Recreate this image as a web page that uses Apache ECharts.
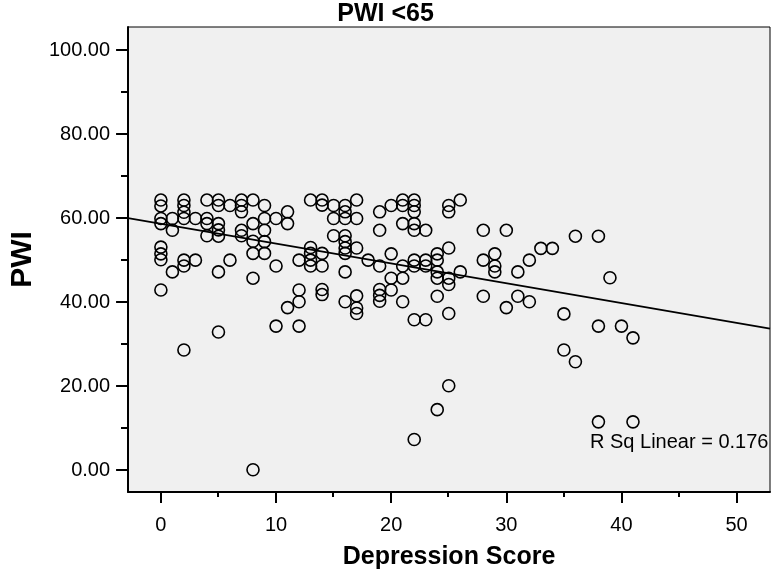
<!DOCTYPE html>
<html>
<head>
<meta charset="utf-8">
<style>
  html, body { margin: 0; padding: 0; background: #ffffff; }
  #chart { width: 771px; height: 577px; }
</style>
<script src="https://cdn.jsdelivr.net/npm/echarts@6/dist/echarts.min.js"></script>
</head>
<body>
<div id="chart"></div>
<script>
// ---- Data ----
const chartTitle = 'PWI <65';
const xAxisTitle = 'Depression Score';
const yAxisTitle = 'PWI';
const rSqLabel = 'R Sq Linear = 0.176';

// Depression score (x) and the PWI values observed at that score
const scoreColumns = [0, 1, 2, 3, 4, 5, 6, 7, 8, 9, 10, 11, 12, 13, 14, 15, 16, 17, 18, 19, 20,
  21, 22, 23, 24, 25, 26, 28, 29, 30, 31, 32, 33, 34, 35, 36, 38, 39, 40, 41];
const pwiColumns = [
  [64.3, 62.9, 59.9, 58.7, 53.1, 51.5, 50.1, 42.9],        // 0
  [59.9, 57.1, 47.2],                                      // 1
  [64.3, 63.0, 61.4, 59.9, 50.0, 48.6, 28.6],              // 2
  [59.9, 50.0],                                            // 3
  [64.3, 59.9, 58.7, 55.8],                                // 4
  [64.3, 63.0, 58.7, 57.2, 55.7, 47.2, 32.9],              // 5
  [63.0, 50.0],                                            // 6
  [64.3, 63.0, 61.5, 57.1, 55.8],                          // 7
  [64.3, 58.7, 54.5, 51.6, 45.7, 0.1],                     // 8
  [63.0, 59.9, 57.1, 54.4, 51.6],                          // 9
  [59.9, 48.6, 34.3],                                      // 10
  [61.5, 58.7, 38.7],                                      // 11
  [50.0, 42.9, 40.1, 34.3],                                // 12
  [64.3, 53.0, 51.6, 50.0, 48.6],                          // 13
  [64.3, 63.1, 51.6, 48.6, 43.0, 41.8],                    // 14
  [63.0, 59.9, 55.8],                                      // 15
  [63.0, 61.5, 59.9, 55.8, 54.4, 52.9, 51.6, 47.2, 40.1],  // 16
  [64.3, 59.9, 52.9, 41.5, 38.6, 37.3],                    // 17
  [50.0],                                                  // 18
  [61.5, 57.1, 48.6, 43.0, 41.6, 40.2],                    // 19
  [63.0, 51.5, 45.7, 42.9],                                // 20
  [64.3, 63.0, 58.7, 48.6, 45.7, 40.1],                    // 21
  [64.3, 63.0, 61.5, 58.7, 57.1, 50.0, 48.6, 35.8, 7.3],   // 22
  [57.1, 50.0, 48.6, 35.8],                                // 23
  [51.5, 50.0, 47.2, 45.7, 41.4, 14.4],                    // 24
  [63.0, 61.5, 52.9, 45.7, 44.2, 37.3, 20.1],              // 25
  [64.3, 47.2],                                            // 26
  [57.1, 50.0, 41.4],                                      // 28
  [51.5, 48.6, 47.2],                                      // 29
  [57.1, 38.7],                                            // 30
  [47.2, 41.4],                                            // 31
  [50.0, 40.1],                                            // 32
  [52.8],                                                  // 33
  [52.8],                                                  // 34
  [37.2, 28.6],                                            // 35
  [55.7, 25.8],                                            // 36
  [55.7, 34.3, 11.5],                                      // 38
  [45.8],                                                  // 39
  [34.3],                                                  // 40
  [31.5, 11.5]                                             // 41
];

// Fitted linear regression line as drawn in the reference
const fitIntercept = 58.66;
const fitSlope = -0.4717;

// Axis extents and ticks
const xRange = [-2.85, 52.9];
const yRange = [-5.2, 105.5];
const xMajorTicks = [0, 10, 20, 30, 40, 50];
const xMinorTicks = [5, 15, 25, 35, 45];
const yMajorTicks = [0, 20, 40, 60, 80, 100];
const yMinorTicks = [10, 30, 50, 70, 90];

// ---- Build ----
const points = [];
scoreColumns.forEach((s, i) => {
  pwiColumns[i].forEach(v => points.push([s, v]));
});
const fitLine = [
  [xRange[0], fitIntercept + fitSlope * xRange[0]],
  [xRange[1], fitIntercept + fitSlope * xRange[1]]
];

const FONT = "'Liberation Sans', Arial, Helvetica, sans-serif";
const gridPos = { left: 127, right: 1, top: 27, bottom: 85 };

const chart = echarts.init(document.getElementById('chart'), null, { renderer: 'canvas' });
chart.setOption({
  animation: false,
  backgroundColor: '#ffffff',
  title: {
    text: chartTitle,
    left: 'center',
    top: 2,
    padding: 0,
    textStyle: { fontFamily: FONT, fontSize: 25, fontWeight: 'bold', color: '#000' }
  },
  grid: [
    Object.assign({ show: true, backgroundColor: '#f0f0f0', borderColor: '#000', borderWidth: 1 }, gridPos),
    Object.assign({ show: false }, gridPos)
  ],
  xAxis: [
    {
      type: 'value', gridIndex: 0, min: xRange[0], max: xRange[1], position: 'bottom',
      name: xAxisTitle, nameLocation: 'middle', nameGap: 53,
      nameTextStyle: { fontFamily: FONT, fontSize: 25, fontWeight: 'bold', color: '#000' },
      axisLine: { show: true, onZero: false, lineStyle: { color: '#000', width: 2 } },
      axisTick: { show: true, customValues: xMajorTicks, length: 11, lineStyle: { color: '#000', width: 2 } },
      axisLabel: { show: true, customValues: xMajorTicks, margin: 23, fontFamily: FONT, fontSize: 20, color: '#000' },
      splitLine: { show: false }
    },
    {
      type: 'value', gridIndex: 1, min: xRange[0], max: xRange[1], position: 'bottom',
      axisLine: { show: false, onZero: false },
      axisTick: { show: true, customValues: xMinorTicks, length: 5, lineStyle: { color: '#000', width: 2 } },
      axisLabel: { show: false },
      splitLine: { show: false }
    }
  ],
  yAxis: [
    {
      type: 'value', gridIndex: 0, min: yRange[0], max: yRange[1], position: 'left',
      name: yAxisTitle, nameLocation: 'middle', nameGap: 90,
      nameTextStyle: { fontFamily: FONT, fontSize: 30, fontWeight: 'bold', color: '#000' },
      axisLine: { show: true, onZero: false, lineStyle: { color: '#000', width: 2 } },
      axisTick: { show: true, customValues: yMajorTicks, length: 12, lineStyle: { color: '#000', width: 2 } },
      axisLabel: {
        show: true, customValues: yMajorTicks, margin: 18,
        fontFamily: FONT, fontSize: 20, color: '#000',
        formatter: v => Number(v).toFixed(2)
      },
      splitLine: { show: false }
    },
    {
      type: 'value', gridIndex: 1, min: yRange[0], max: yRange[1], position: 'left',
      axisLine: { show: false, onZero: false },
      axisTick: { show: true, customValues: yMinorTicks, length: 6, lineStyle: { color: '#000', width: 2 } },
      axisLabel: { show: false },
      splitLine: { show: false }
    }
  ],
  series: [
    {
      type: 'scatter', xAxisIndex: 0, yAxisIndex: 0,
      data: points,
      symbol: 'circle', symbolSize: 12,
      itemStyle: { color: 'rgba(0,0,0,0)', borderColor: '#000', borderWidth: 1.6, opacity: 1 },
      emphasis: { disabled: true },
      z: 2
    },
    {
      type: 'line', xAxisIndex: 0, yAxisIndex: 0,
      data: fitLine,
      showSymbol: false, symbol: 'none',
      lineStyle: { color: '#000', width: 1.8 },
      clip: true,
      z: 3
    }
  ],
  graphic: [
    {
      type: 'text', left: 590, top: 432, z: 10,
      style: { text: rSqLabel, fontFamily: FONT, fontSize: 20, fill: '#000' }
    }
  ]
});
</script>
</body>
</html>
